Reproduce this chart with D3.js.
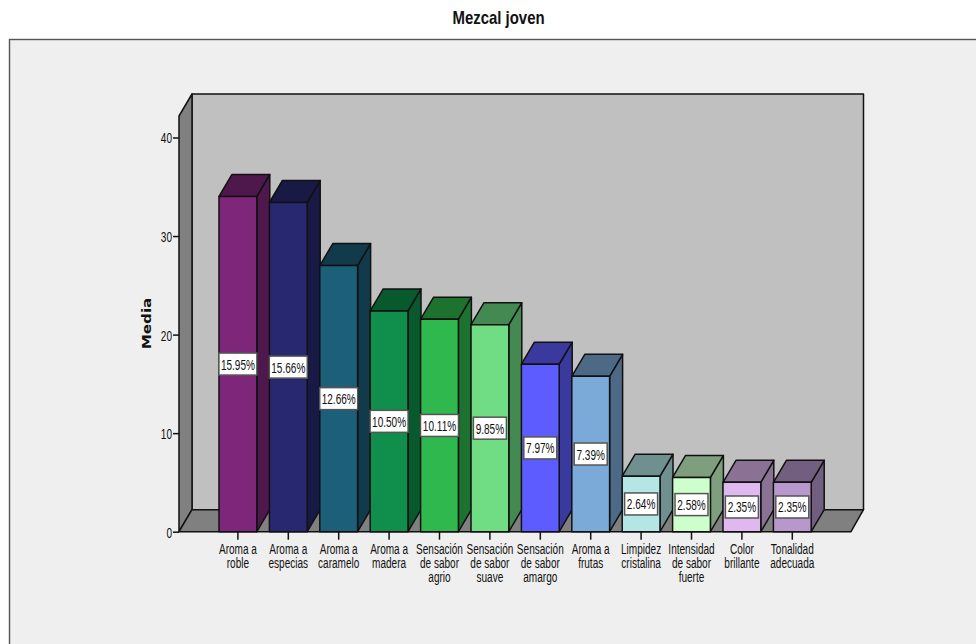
<!DOCTYPE html>
<html>
<head>
<meta charset="utf-8">
<title>Mezcal joven</title>
<script src="https://cdn.jsdelivr.net/npm/d3@7/dist/d3.min.js"></script>
<style>
html, body { margin: 0; padding: 0; background: #fff; overflow: hidden; }
text { font-family: "Liberation Sans", Arial, sans-serif; fill: #111; }
</style>
</head>
<body>
<svg id="chart" width="976" height="644"></svg>
<script>
// Attributes, their share of the summed means (percent) and the bar colours
const categories = [
  ["Aroma a", "roble"], ["Aroma a", "especias"], ["Aroma a", "caramelo"], ["Aroma a", "madera"],
  ["Sensación", "de sabor", "agrio"], ["Sensación", "de sabor", "suave"], ["Sensación", "de sabor", "amargo"],
  ["Aroma a", "frutas"], ["Limpidez", "cristalina"], ["Intensidad", "de sabor", "fuerte"],
  ["Color", "brillante"], ["Tonalidad", "adecuada"]
];
const shares = [15.95, 15.66, 12.66, 10.50, 10.11, 9.85, 7.97, 7.39, 2.64, 2.58, 2.35, 2.35];
const sumOfMeans = 213.3;
const barColors = ["#7e277a", "#27286f", "#1b5f78", "#0f8f4b", "#2eb84e", "#70dd84",
                   "#5c5cff", "#7ba9d8", "#b5e6e6", "#ccffcc", "#e0b8f0", "#b898cc"];
const yTicks = [0, 10, 20, 30, 40];

const svg = d3.select("#chart");
const depthX = 13, depthY = 22;
const yBase = 531.7, yTop = 116;
const x0 = 179, x1 = 851;
const narrow = 0.67;

const y = d3.scaleLinear().domain([0, 42.18]).range([yBase, yTop]);
const x = d3.scaleBand().domain(d3.range(categories.length))
  .range([206.4, 823.8]).paddingInner(0.25).paddingOuter(0.25);

const mean = s => s / 100 * sumOfMeans;
const polygon = pts => "M" + pts.map(p => p.join(",")).join("L") + "Z";

// Horizontally condensed text, as the chart's narrow lettering needs
function squeezed(sel, px, py, sx) {
  return sel.attr("transform", `translate(${px},${py}) scale(${sx},1)`);
}

// Shade used on the side and top of a bar
function shade(hex) {
  const c = d3.rgb(hex);
  return d3.rgb(c.r * 0.62, c.g * 0.62, c.b * 0.62).formatHex();
}

// Panel
svg.append("rect").attr("x", 9.5).attr("y", 39.5).attr("width", 1000).attr("height", 700)
  .attr("fill", "#efefef").attr("stroke", "#555").attr("stroke-width", 1.4);

squeezed(svg.append("text"), 498.5, 24, 0.83)
  .attr("text-anchor", "middle").attr("font-size", 18).attr("font-weight", "bold")
  .text("Mezcal joven");

// Chart box: back wall, side wall, floor
const edges = { stroke: "#111", "stroke-width": 1.5, "stroke-linejoin": "round" };
const face = (parent, d, fill) => {
  const p = parent.append("path").attr("d", d).attr("fill", fill);
  Object.entries(edges).forEach(([k, v]) => p.attr(k, v));
  return p;
};
face(svg, polygon([[x0 + depthX, yTop - depthY], [x1 + depthX - 0.5, yTop - depthY],
                   [x1 + depthX - 0.5, yBase - depthY], [x0 + depthX, yBase - depthY]]), "#c0c0c0");
face(svg, polygon([[x0, yTop], [x0 + depthX, yTop - depthY], [x0 + depthX, yBase - depthY], [x0, yBase]]), "#808080");
face(svg, polygon([[x0, yBase], [x0 + depthX, yBase - depthY], [x1 + depthX - 0.5, yBase - depthY], [x1, yBase]]), "#808080");

// Bars: side and top faces are darker tints of the front colour
const bars = svg.append("g").selectAll("g").data(shares).join("g");
bars.each(function (s, i) {
  const g = d3.select(this);
  const left = x(i), right = left + x.bandwidth(), top = y(mean(s));
  const dark = shade(barColors[i]);
  face(g, polygon([[right, yBase], [right + depthX, yBase - depthY], [right + depthX, top - depthY], [right, top]]), dark);
  face(g, polygon([[left, top], [left + depthX, top - depthY], [right + depthX, top - depthY], [right, top]]), dark);
  face(g, polygon([[left, yBase], [left, top], [right, top], [right, yBase]]), barColors[i]);
});

// Value labels sit at the mid-height of each bar
bars.each(function (s, i) {
  const g = d3.select(this);
  const cx = x(i) + x.bandwidth() / 2;
  const cy = y(mean(s) / 2);
  const label = s.toFixed(2) + "%";
  const w = s >= 10 ? 38 : 33;
  g.append("rect").attr("x", cx - w / 2).attr("y", cy - 11).attr("width", w).attr("height", 22)
    .attr("fill", "#fff").attr("stroke", "#555").attr("stroke-width", 1.5);
  squeezed(g.append("text"), cx, cy + 5.5, narrow)
    .attr("text-anchor", "middle").attr("font-size", 15).text(label);
});

// Value axis
const yAxis = svg.append("g").attr("transform", `translate(${x0},0)`)
  .call(d3.axisLeft(y).tickValues(yTicks).tickSize(6).tickFormat(d3.format("d")));
yAxis.select(".domain").remove();
yAxis.selectAll("line").attr("stroke", "#111").attr("stroke-width", 1.5);
yAxis.selectAll("text")
  .attr("x", null).attr("y", null).attr("dy", null)
  .attr("font-size", 15).attr("text-anchor", "end")
  .attr("transform", `translate(-7,5.5) scale(${narrow},1)`);

// Category axis, with each wrapped label held in one text element
const xAxis = svg.append("g").attr("transform", `translate(0,${yBase})`)
  .call(d3.axisBottom(x).tickSize(8).tickFormat(""));
xAxis.select(".domain").remove();
xAxis.selectAll("line").attr("stroke", "#111").attr("stroke-width", 1.5);
categories.forEach((lines, i) => {
  const cx = x(i) + x.bandwidth() / 2;
  const label = squeezed(svg.append("text"), cx, yBase + 22.5, narrow)
    .attr("text-anchor", "middle").attr("font-size", 15);
  lines.forEach((line, k) => {
    label.append("tspan").attr("x", 0).attr("y", k * 14).text(line);
  });
});

// Value axis title
svg.append("text")
  .attr("transform", "translate(151,323.5) rotate(-90) scale(1.17,1)")
  .attr("text-anchor", "middle")
  .style("font-family", "'DejaVu Sans', sans-serif")
  .attr("font-size", 13).attr("font-weight", "bold").text("Media");
</script>
</body>
</html>
